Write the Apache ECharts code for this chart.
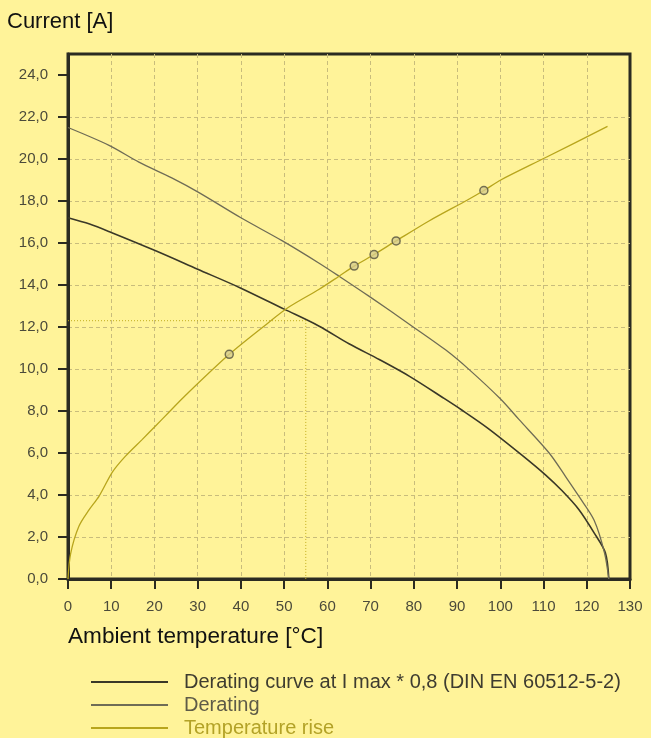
<!DOCTYPE html>
<html>
<head>
<meta charset="utf-8">
<script src="https://cdn.jsdelivr.net/npm/echarts@6/dist/echarts.min.js"></script>
<style>
  html, body { margin: 0; padding: 0; background: #fff399; }
  #main { width: 651px; height: 738px; }
</style>
</head>
<body>
<div id="main"></div>
<script>
// ticks
var xTicks = [0, 10, 20, 30, 40, 50, 60, 70, 80, 90, 100, 110, 120, 130];
var yTicks = [0, 2, 4, 6, 8, 10, 12, 14, 16, 18, 20, 22, 24];

// Derating curve at I max * 0,8
var tempA = [0, 5, 10, 20, 30, 40, 50, 58, 65, 72, 79, 87, 91, 97, 105, 110.5, 114.3, 118.2, 121.7, 124.3, 125.1];
var currA = [17.2, 16.9, 16.5, 15.65, 14.75, 13.85, 12.85, 12.05, 11.2, 10.45, 9.65, 8.6, 8.06, 7.2, 5.9, 4.95, 4.2, 3.3, 2.2, 1.25, 0];

// Derating
var tempB = [0, 9.5, 16.4, 24, 30.3, 40, 49.6, 58, 62.7, 69.6, 79.6, 87.4, 92.8, 100, 104.3, 111.3, 115.1, 118.2, 121.7, 124.1, 125.1];
var currB = [21.5, 20.65, 19.85, 19.1, 18.4, 17.2, 16.1, 15.05, 14.42, 13.47, 12.04, 10.9, 9.97, 8.58, 7.6, 6.0, 4.88, 3.93, 2.8, 1.25, 0];

// Temperature rise
var tempC = [0, 0.6, 2.5, 4.9, 7.2, 10.3, 13.3, 17.2, 20.3, 23.4, 27.2, 37.3, 45.7, 51.1, 58.1, 62.7, 66.2, 70.8, 75.9, 83.5, 92.4, 96.2, 100.1, 110.5, 124.8];
var currC = [0, 1.2, 2.5, 3.3, 3.95, 5.1, 5.85, 6.65, 7.3, 7.95, 8.75, 10.7, 12.1, 12.95, 13.8, 14.42, 14.9, 15.45, 16.1, 17.05, 18.05, 18.5, 19.0, 20.07, 21.55];

// measured points on the temperature rise curve
var markT = [37.3, 66.2, 70.8, 75.9, 96.2];
var markI = [10.7, 14.9, 15.45, 16.1, 18.5];

// dotted reading guide
var guideT = [0, 55, 55];
var guideI = [12.3, 12.3, 0];

var names = ['Derating curve at I max * 0,8 (DIN EN 60512-5-2)', 'Derating', 'Temperature rise'];

function pairs(xs, ys) {
  var out = [];
  for (var i = 0; i < xs.length; i++) out.push([xs[i], ys[i]]);
  return out;
}

var font = 'Liberation Sans, Arial, sans-serif';
var frame = '#2b2b22';
var gridLine = { show: true, showMinLine: false, showMaxLine: false,
                 lineStyle: { color: '#c8bc7c', type: [4, 3], width: 1 } };
var chart = echarts.init(document.getElementById('main'));

var option = {
  backgroundColor: '#fff399',
  animation: false,
  title: [
    { text: 'Current [A]', left: 7, top: 11, padding: 0,
      textStyle: { fontFamily: font, fontSize: 22, fontWeight: 'normal', color: '#111' } },
    { text: 'Ambient temperature [°C]', left: 68, top: 625, padding: 0,
      textStyle: { fontFamily: font, fontSize: 22.6, fontWeight: 'normal', color: '#111' } }
  ],
  legend: {
    orient: 'vertical',
    left: 90,
    top: 672,
    padding: 0,
    itemWidth: 77,
    itemHeight: 2,
    itemGap: 3,
    textStyle: { fontFamily: font, fontSize: 20, lineHeight: 20, padding: [0, 0, 0, 11] },
    data: [
      { name: names[0], textStyle: { color: '#3e3c30' } },
      { name: names[1], textStyle: { color: '#5e5b48' } },
      { name: names[2], textStyle: { color: '#b3a227' } }
    ]
  },
  grid: {
    left: 68, right: 21, top: 54, bottom: 159,
    show: true,
    borderColor: frame,
    borderWidth: 3
  },
  xAxis: {
    type: 'value',
    min: 0, max: 130, interval: 10,
    axisLine: { show: true, lineStyle: { color: frame, width: 3 } },
    axisTick: { show: true, length: 10, customValues: xTicks, lineStyle: { color: frame, width: 2 } },
    axisLabel: { fontFamily: font, fontSize: 15, color: '#4b4a3a', margin: 20, customValues: xTicks },
    splitLine: gridLine
  },
  yAxis: {
    type: 'value',
    min: 0, max: 25, interval: 2,
    axisLine: { show: true, lineStyle: { color: frame, width: 3 } },
    axisTick: { show: true, length: 10, customValues: yTicks, lineStyle: { color: frame, width: 2 } },
    axisLabel: {
      fontFamily: font, fontSize: 15, color: '#4b4a3a', margin: 20,
      customValues: yTicks,
      formatter: function (v) { return v.toFixed(1).replace('.', ','); }
    },
    splitLine: gridLine
  },
  series: [
    {
      name: names[0], type: 'line', data: pairs(tempA, currA),
      symbol: 'none', smooth: 0.3,
      lineStyle: { color: '#3a3828', width: 1.6 }, itemStyle: { color: '#3a3828' }
    },
    {
      name: names[1], type: 'line', data: pairs(tempB, currB),
      symbol: 'none', smooth: 0.3,
      lineStyle: { color: '#6f6c56', width: 1.3 }, itemStyle: { color: '#6f6c56' }
    },
    {
      name: names[2], type: 'line', data: pairs(tempC, currC),
      symbol: 'none', smooth: 0.3,
      lineStyle: { color: '#b8a51c', width: 1.3 }, itemStyle: { color: '#b8a51c' }
    },
    {
      name: 'guide', type: 'line', data: pairs(guideT, guideI),
      symbol: 'none', silent: true,
      lineStyle: { color: '#c2ae1e', width: 1, type: [1, 2] }
    },
    {
      name: 'points', type: 'scatter', data: pairs(markT, markI),
      symbol: 'circle', symbolSize: 8, z: 5,
      itemStyle: { color: '#d6cc8c', borderColor: '#55533f', borderWidth: 1.5 }
    }
  ]
};

chart.setOption(option);
</script>
</body>
</html>
